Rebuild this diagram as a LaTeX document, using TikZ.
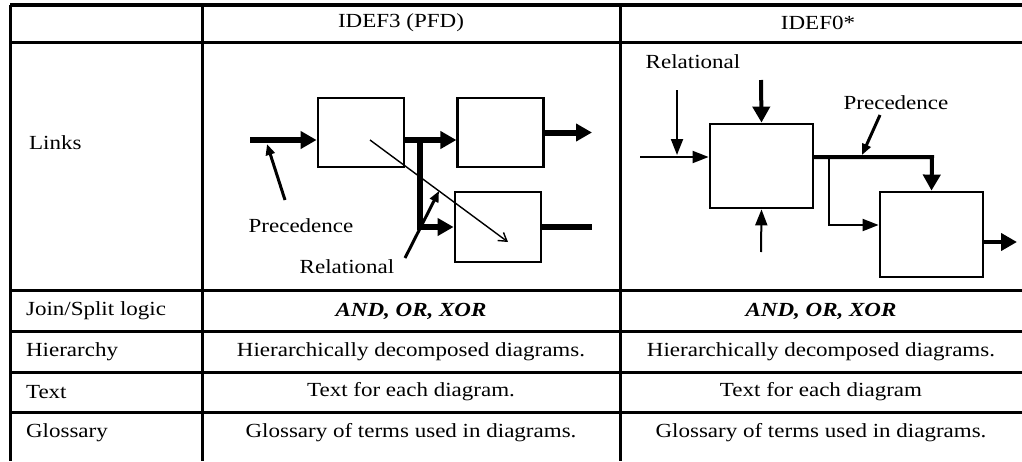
\documentclass[tikz,border=0pt]{standalone}
\usepackage{fontspec}
\setmainfont[FakeStretch=1.15]{Liberation Serif}
\usetikzlibrary{arrows.meta,positioning}

\tikzset{
  rule/.style={line width=1.5pt},
  proc/.style={draw, line width=1.4pt, inner sep=0pt},
  fat/.style={line width=3pt, -{Triangle[length=8pt,width=8.5pt]}},
  fatline/.style={line width=3pt},
  mid/.style={line width=2pt, -{Triangle[length=8pt,width=8.5pt]}},
  slim/.style={line width=1pt, -{Triangle[length=8pt,width=6pt]}},
  pointer/.style={line width=1.5pt, -{Triangle[length=5.5pt,width=4.5pt]}},
  hair/.style={line width=0.7pt, -{Straight Barb[length=4pt,width=5pt]}},
  cell/.style={font=\fontsize{10pt}{12pt}\selectfont},
}

\begin{document}
\begin{tikzpicture}[x=0.5pt, y=-0.5pt, node distance=25.5pt and 25.5pt]
      \useasboundingbox (0,0) rectangle (1022,461);

      % table rules
      \draw[line width=2pt] (10,5) -- (1022,5);
      \foreach \yy in {42,290,331,372,412}
        \draw[rule] (10,\yy) -- (1022,\yy);
      \foreach \xx in {10,202,620}
        \draw[rule] (\xx,5) -- (\xx,461);

      % header and cells
      \node[cell] (h1) at (401,23) {IDEF3 (PFD)};
      \node[cell] (h2) at (818,23) {IDEF0*};
      \node[cell, anchor=west] (r1) at (22,143) {Links};
      \node[cell, anchor=west] (r2) at (19,311) {Join/Split logic};
      \node[cell, anchor=west] (r3) at (19,352) {Hierarchy};
      \node[cell, anchor=west] (r4) at (19,392) {Text};
      \node[cell, anchor=west] (r5) at (19,433) {Glossary};
      \node[cell] (c21) at (411,311) {\textbf{\textit{AND, OR, XOR}}};
      \node[cell] (c22) at (411,352) {Hierarchically decomposed diagrams.};
      \node[cell] (c23) at (411,392) {Text for each diagram.};
      \node[cell] (c24) at (411,433) {Glossary of terms used in diagrams.};
      \node[cell] (c31) at (821,311) {\textbf{\textit{AND, OR, XOR}}};
      \node[cell] (c32) at (821,352) {Hierarchically decomposed diagrams.};
      \node[cell] (c33) at (821,392) {Text for each diagram};
      \node[cell] (c34) at (821,433) {Glossary of terms used in diagrams.};

      % IDEF3 links
      \node[proc, minimum width=43pt, minimum height=34.5pt] (a) at (361,132.5) {};
      \node[proc, minimum width=43pt, minimum height=34.5pt] (b) [right=of a] {};
      \node[proc, minimum width=43pt, minimum height=35pt] (c) at (498,227) {};
      \coordinate (ain) at (250,140);
      \coordinate (t) at (420,140);
      \coordinate (tb) at (420,227);
      \coordinate (bout) at (592,132.5);
      \coordinate (cout) at (592,227);
      \draw[fat] (ain) -- (ain -| a.west);
      \draw[fatline] (a.east |- t) -- (t);
      \draw[fat] (t) -- (t -| b.west);
      \draw[fat] (t) -- (tb) -- (c.west);
      \draw[fat] (b.east) -- (bout);
      \draw[fatline] (c.east) -- (cout);
      \coordinate (d0) at (370,140);
      \coordinate (d1) at (508,242);
      \draw[hair] (d0) -- (d1);
      \node[cell] (prec3) at (301,226) {Precedence};
      \node[cell] (rel3) at (347,267) {Relational};
      \coordinate (p0) at (285,200);
      \coordinate (p1) at (267,144);
      \draw[pointer] (p0) -- (p1);
      \coordinate (q0) at (405,258);
      \coordinate (q1) at (439,191);
      \draw[pointer] (q0) -- (q1);

      % IDEF0 links
      \node[proc, minimum width=51.5pt, minimum height=42pt] (d) at (761.5,166) {};
      \node[proc, minimum width=51.5pt, minimum height=42.5pt] (e) at (931.5,234.5) {};
      \node[cell] (rel0) at (693,62) {Relational};
      \node[cell] (prec0) at (896,103) {Precedence};
      \coordinate (v0) at (677,90);
      \coordinate (v1) at (677,155);
      \coordinate (i0) at (640,157);
      \coordinate (u0) at (761,80);
      \coordinate (w0) at (761,252);
      \coordinate (k0) at (813,157);
      \coordinate (k1) at (932,157);
      \coordinate (m0) at (829,157);
      \coordinate (m1) at (829,225);
      \coordinate (eo) at (1017,242);
      \draw[slim] (v0) -- (v1);
      \draw[slim] (i0) -- (i0 -| d.west);
      \draw[mid] (u0) -- (d.north);
      \draw[slim] (w0) -- (d.south);
      \draw[mid] (k0) -- (k1) -- (e.north);
      \draw[slim] (m0) -- (m1) -- (m1 -| e.west);
      \draw[mid] (e.east |- eo) -- (eo);
      \coordinate (s0) at (880,115);
      \coordinate (s1) at (862,155);
      \draw[pointer] (s0) -- (s1);
    \end{tikzpicture}
\end{document}
